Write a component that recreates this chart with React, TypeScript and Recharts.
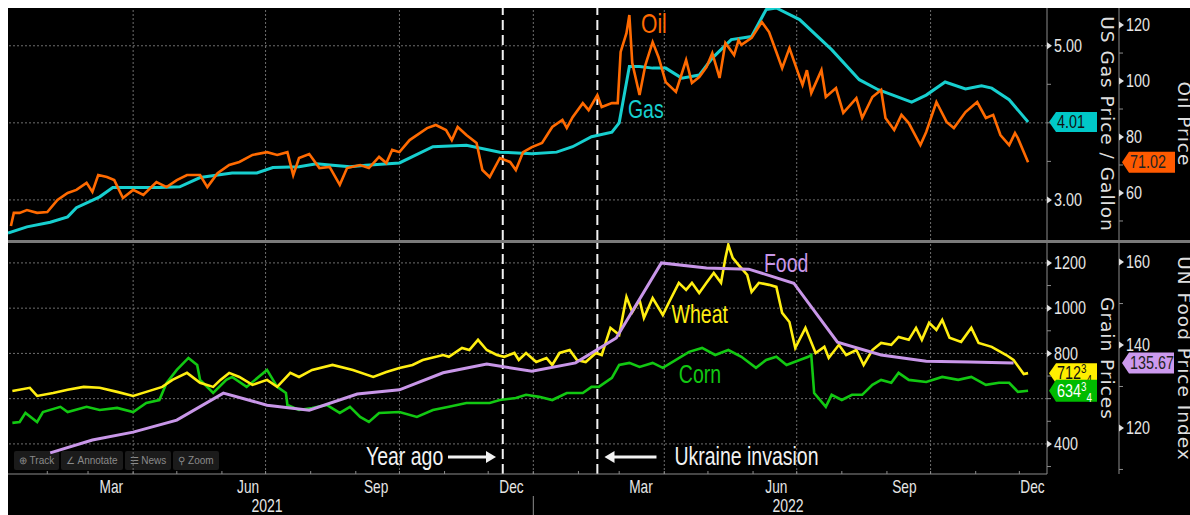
import { LineChart, Line, XAxis, YAxis, ReferenceLine, ReferenceDot } from 'recharts'

const SANS = '"Liberation Sans", Arial, sans-serif'
const WIDE = '"DejaVu Sans", Verdana, sans-serif'

// x = days since 1 Jan 2021
const oil = [
  [6, 48.2], [8, 52.9], [12, 52.9], [17, 53.9], [24, 52.9], [31, 53.2], [38, 57.5], [45, 60.0], [51, 61.1], [58, 63.6],
  [62, 60.4], [66, 66.4], [72, 65.7], [77, 64.6], [83, 58.2], [90, 61.1], [97, 59.3], [106, 63.9], [113, 62.1], [120, 64.6],
  [127, 66.4], [136, 66.4], [141, 62.1], [148, 67.1], [156, 70.0], [163, 71.1], [172, 73.6], [182, 74.6], [189, 73.6], [196, 74.6],
  [200, 66.4], [204, 72.5], [211, 73.9], [218, 68.9], [225, 69.3], [232, 62.9], [237, 68.9], [246, 70.0], [252, 68.9], [259, 72.9],
  [264, 70.7], [268, 75.4], [273, 74.6], [280, 78.9], [292, 83.2], [298, 84.3], [305, 82.5], [309, 78.9], [313, 83.6], [319, 80.7],
  [326, 77.9], [330, 68.2], [335, 65.7], [342, 72.5], [349, 71.1], [353, 68.2], [358, 74.6], [364, 76.4], [371, 77.9], [378, 83.6],
  [385, 86.1], [388, 83.2], [392, 87.1], [399, 92.1], [403, 89.6], [409, 95.0], [412, 90.7], [419, 92.1], [423, 92.1], [425, 110.4],
  [429, 117.1], [431, 123.6], [433, 106.4], [438, 95.0], [442, 105.7], [447, 113.9], [451, 108.6], [456, 99.6], [463, 96.1], [470, 107.5],
  [474, 99.3], [479, 101.4], [484, 105.0], [488, 110.0], [493, 101.1], [497, 113.6], [503, 109.3], [506, 114.6], [508, 112.9], [515, 115.4],
  [522, 121.1], [527, 117.5], [532, 110.4], [536, 104.6], [541, 111.8], [548, 101.4], [550, 98.6], [553, 103.9], [556, 95.7], [563, 103.9],
  [566, 94.3], [573, 97.5], [578, 88.6], [587, 93.9], [591, 86.8], [598, 94.3], [604, 96.8], [607, 86.8], [613, 82.5], [618, 87.9],
  [623, 85.0], [631, 77.1], [635, 81.8], [642, 92.5], [649, 85.4], [654, 83.2], [662, 88.9], [670, 92.5], [676, 86.8], [681, 87.9],
  [686, 80.7], [692, 77.1], [696, 81.4], [698, 79.6], [705, 71.02],
]

const gas = [
  [4, 2.57], [17, 2.65], [33, 2.71], [45, 2.78], [51, 2.9], [67, 3.04], [76, 3.16], [90, 3.16], [108, 3.16], [122, 3.17],
  [136, 3.29], [158, 3.35], [175, 3.35], [186, 3.42], [204, 3.43], [216, 3.47], [227, 3.45], [239, 3.43], [250, 3.45], [273, 3.48],
  [296, 3.69], [319, 3.71], [342, 3.62], [364, 3.6], [381, 3.62], [392, 3.69], [405, 3.82], [419, 3.88], [424, 4.0], [431, 4.73],
  [438, 4.73], [447, 4.71], [456, 4.71], [467, 4.58], [479, 4.62], [488, 4.84], [501, 5.08], [515, 5.12], [525, 5.47], [532, 5.49],
  [548, 5.34], [570, 4.95], [589, 4.56], [602, 4.43], [625, 4.27], [635, 4.36], [648, 4.53], [662, 4.44], [673, 4.48], [680, 4.45],
  [692, 4.3], [705, 4.01],
]

const wheat = [
  [7, 634], [19, 648], [24, 612], [35, 625], [45, 639], [56, 652], [67, 648], [79, 630], [90, 612], [99, 630],
  [110, 652], [117, 683], [127, 714], [136, 670], [145, 652], [150, 683], [156, 714], [163, 696], [172, 661], [182, 683],
  [189, 652], [198, 714], [204, 696], [213, 727], [227, 749], [241, 727], [255, 696], [264, 718], [273, 736], [282, 749],
  [289, 771], [303, 793], [307, 785], [316, 824], [321, 815], [327, 860], [333, 815], [340, 793], [345, 785], [352, 802],
  [355, 771], [360, 802], [367, 762], [374, 780], [378, 749], [383, 802], [390, 815], [395, 771], [401, 762], [408, 802],
  [412, 793], [418, 913], [424, 882], [429, 1050], [433, 983], [438, 1036], [441, 957], [447, 1045], [454, 970], [458, 1023],
  [465, 1112], [470, 1081], [474, 1112], [479, 1067], [484, 1112], [489, 1156], [494, 1112], [497, 1222], [499, 1280], [502, 1222],
  [506, 1191], [512, 1147], [515, 1072], [520, 1112], [527, 1103], [532, 1094], [536, 979], [541, 939], [545, 824], [552, 913],
  [559, 802], [565, 829], [568, 780], [575, 838], [580, 793], [587, 815], [592, 749], [598, 815], [604, 846], [611, 838],
  [616, 873], [623, 860], [628, 913], [632, 860], [637, 935], [642, 904], [646, 948], [651, 869], [659, 851], [666, 913],
  [671, 846], [680, 829], [690, 793], [695, 771], [702, 709], [705, 712.75],
]

const corn = [
  [7, 493], [12, 497], [16, 537], [24, 497], [28, 541], [40, 564], [45, 541], [58, 564], [67, 550], [79, 559],
  [90, 541], [99, 581], [108, 594], [113, 670], [120, 727], [128, 780], [134, 749], [136, 683], [145, 625], [154, 683],
  [158, 696], [168, 652], [182, 727], [189, 652], [195, 625], [196, 572], [204, 550], [213, 559], [223, 572], [232, 537],
  [239, 564], [246, 519], [252, 497], [259, 537], [273, 541], [285, 519], [296, 550], [307, 564], [319, 581], [335, 581],
  [342, 594], [353, 603], [360, 617], [369, 608], [378, 594], [388, 625], [399, 625], [405, 652], [410, 652], [419, 692],
  [424, 749], [431, 758], [438, 740], [447, 758], [454, 736], [463, 771], [472, 807], [481, 824], [490, 793], [499, 815],
  [508, 785], [518, 736], [525, 771], [532, 785], [539, 749], [548, 771], [554, 785], [556, 793], [558, 625], [566, 564],
  [570, 617], [577, 594], [584, 617], [591, 617], [598, 661], [604, 683], [611, 670], [616, 714], [623, 683], [635, 674],
  [646, 696], [657, 683], [666, 696], [676, 661], [685, 670], [692, 670], [698, 630], [705, 634.75],
]

// UN FAO food price index, monthly
const food = [
  [33, 114.0], [62, 117.1], [90, 119.0], [120, 121.9], [152, 128.4], [182, 125.5], [211, 124.3], [244, 128.2], [273, 129.2], [303, 133.3],
  [333, 135.4], [364, 133.7], [394, 135.7], [422, 141.7], [453, 159.8], [484, 158.6], [513, 158.3], [544, 154.9], [574, 140.7], [604, 137.6],
  [635, 136.1], [665, 135.9], [695, 135.67],
]

const xDomain = [4, 718]
const monthStarts = [31, 59, 90, 120, 151, 181, 212, 243, 273, 304, 334, 365, 396, 424, 455, 485, 516, 546, 577, 608, 638, 669, 699]
const quarterStarts = [90, 181, 273, 365, 455, 546, 638]
const monthLabelDays = [75, 169, 257, 350, 439, 532, 620, 708]
const monthLabels = ['Mar', 'Jun', 'Sep', 'Dec', 'Mar', 'Jun', 'Sep', 'Dec']
const yearLabelDays = [182, 540]
const yearLabels = ['2021', '2022']
const yearBreak = 365
const eventDays = [344, 409] // a year ago, Ukraine invasion

// labelled ticks (the 4.00 and 600 labels sit under the value badges)
const gasTicks = [3, 5]
const gasMinor = [3.5, 4, 4.5]
const gasGrid = [3, 4, 5]
const oilTicks = [60, 80, 100, 120]
const oilMinor = [50, 70, 90, 110]
const grainTicks = [400, 800, 1000, 1200]
const grainMinor = [300, 500, 600, 700, 900, 1100]
const grainGrid = [400, 600, 800, 1000, 1200]
const foodTicks = [120, 140, 160]
const foodMinor = [110, 130, 150]

const rows = (pts: number[][]) => pts.map(([d, v]) => ({ d, v }))

const GRID = '#6e6e6e'
const AXIS = '#8c8c8c'

// Bloomberg-style condensed text
function NText({ x, y, size, fill, anchor = 'start', sx = 0.8, dy, children }: any) {
  return (
    <text transform={`translate(${x} ${y}) scale(${sx} 1)`} x={0} y={0} dy={dy} textAnchor={anchor} fill={fill} fontSize={size} fontFamily={SANS}>
      {children}
    </text>
  )
}

function AxisTick({ x, y, payload, major, fmt }: any) {
  const v = payload.value
  if (!major.includes(v)) return <line x1={x} x2={x + 4} y1={y} y2={y} stroke={AXIS} />
  return (
    <g>
      <path d={`M${x},${y - 3.5}L${x + 5},${y}L${x},${y + 3.5}Z`} fill="#e0e0e0" />
      <NText x={x + 7} y={y} dy="0.36em" fill="#e6e6e6" size={17.5} sx={0.82}>{fmt(v)}</NText>
    </g>
  )
}

function AxisTitle({ viewBox, text, dx }: any) {
  const x = viewBox.x + dx
  const y = viewBox.y + viewBox.height / 2
  return (
    <text x={x} y={y} transform={`rotate(90 ${x} ${y})`} textAnchor="middle" fill="#dedede" fontSize={18.5} letterSpacing={1}
      fontFamily={WIDE}>
      {text}
    </text>
  )
}

function Badge({ viewBox, dx, w, h, fill, color, text, sup, sub }: any) {
  const x = viewBox.x + viewBox.width + dx
  const y = viewBox.y
  return (
    <g>
      <path d={`M${x},${y}L${x + 7},${y - h / 2}L${x + w},${y - h / 2}L${x + w},${y + h / 2}L${x + 7},${y + h / 2}Z`} fill={fill} />
      <NText x={x + 8} y={y} dy="0.36em" fill={color} size={17.5} sx={0.82}>
        {text}
        {sup && <tspan fontSize={12} dy="-0.5em">{sup}</tspan>}
        {sub && <tspan fontSize={12} dy="0.9em">{sub}</tspan>}
      </NText>
    </g>
  )
}

function SeriesLabel({ viewBox, text, fill, size }: any) {
  return <NText x={viewBox.x} y={viewBox.y} fill={fill} size={size} sx={0.78}>{text}</NText>
}

function EventNote({ viewBox, text, arrowFrom, arrowTo }: any) {
  const x = viewBox.x
  const y = viewBox.y
  const ay = y - 8
  const right = arrowTo > arrowFrom
  const tip = x + arrowTo
  const head = right
    ? `M${tip},${ay}L${tip - 10},${ay - 6}L${tip - 10},${ay + 6}Z`
    : `M${tip},${ay}L${tip + 10},${ay - 6}L${tip + 10},${ay + 6}Z`
  return (
    <g>
      <NText x={x} y={y} fill="#f2f2f2" size={25} sx={0.78}>{text}</NText>
      <line x1={x + arrowFrom} x2={right ? tip - 6 : tip + 6} y1={ay} y2={ay} stroke="#f2f2f2" strokeWidth={3} />
      <path d={head} fill="#f2f2f2" />
    </g>
  )
}

function MonthTick({ x, y, payload }: any) {
  const i = monthLabelDays.indexOf(payload.value)
  if (i >= 0) {
    return <NText x={x} y={y + 19} anchor="middle" fill="#e6e6e6" size={18} sx={0.76}>{monthLabels[i]}</NText>
  }
  return <line x1={x} x2={x} y1={y - 3} y2={y} stroke={AXIS} />
}

function YearTick({ x, y, payload }: any) {
  const i = yearLabelDays.indexOf(payload.value)
  if (i >= 0) {
    return <NText x={x} y={y + 17.5} anchor="middle" fill="#e6e6e6" size={18} sx={0.78}>{yearLabels[i]}</NText>
  }
  return <line x1={x} x2={x} y1={y + 2} y2={y + 21} stroke={AXIS} />
}

const toolbar = ['⊕ Track', '∠ Annotate', '☰ News', '⚲ Zoom']

export default function App() {
  return (
    <div style={{ position: 'fixed', left: 0, top: 0, width: 1190, height: 515, background: '#fff', overflow: 'hidden' }}>
      <div style={{ position: 'absolute', left: 8, top: 8, width: 1182, height: 507, background: '#000', overflow: 'hidden' }}>
        <div style={{ position: 'absolute', left: 6, top: 443, display: 'flex', gap: 2 }}>
          {toolbar.map((t) => (
            <div key={t} style={{ background: '#1b1b1b', color: '#8a8a8a', font: `10px ${SANS}`, padding: '4px 5px', borderRadius: 2 }}>{t}</div>
          ))}
        </div>
        <div style={{ position: 'absolute', left: 0, top: 0 }}>
          <LineChart width={1182} height={232} margin={{ top: 0, right: 0, bottom: 0, left: 0 }}>
            <XAxis type="number" dataKey="d" domain={xDomain} hide allowDataOverflow />
            <YAxis
              yAxisId="a_gas" orientation="right" type="number" domain={[2.48, 5.49]} allowDataOverflow
              ticks={[...gasTicks, ...gasMinor]} interval={0} width={72} tickSize={0} tickMargin={0}
              axisLine={{ stroke: AXIS }} tickLine={false}
              tick={<AxisTick major={gasTicks} fmt={(v: number) => v.toFixed(2)} />}
              label={<AxisTitle text="US Gas Price / Gallon" dx={54} />}
            />
            <YAxis
              yAxisId="b_oil" orientation="right" type="number" domain={[43.2, 126.1]} allowDataOverflow
              ticks={[...oilTicks, ...oilMinor]} interval={0} width={71} tickSize={0} tickMargin={0}
              axisLine={{ stroke: AXIS }} tickLine={false}
              tick={<AxisTick major={oilTicks} fmt={(v: number) => String(v)} />}
              label={<AxisTitle text="Oil Price" dx={59} />}
            />
            {gasGrid.map((v) => (
              <ReferenceLine key={'h' + v} yAxisId="a_gas" y={v} stroke={GRID} strokeDasharray="2 2" />
            ))}
            {quarterStarts.map((d) => (
              <ReferenceLine key={'v' + d} yAxisId="a_gas" x={d} stroke={GRID} strokeDasharray="2 2" />
            ))}
            {eventDays.map((d) => (
              <ReferenceLine key={'e' + d} yAxisId="a_gas" x={d} stroke="#f2f2f2" strokeWidth={2} strokeDasharray="10 5" />
            ))}
            <Line data={rows(gas)} yAxisId="a_gas" dataKey="v" stroke="#17cfcf" strokeWidth={3} dot={false} isAnimationActive={false} />
            <Line data={rows(oil)} yAxisId="b_oil" dataKey="v" stroke="#ff6a00" strokeWidth={2.6} dot={false} isAnimationActive={false} />
            <ReferenceDot yAxisId="b_oil" x={439} y={117.1} r={0} fill="none" stroke="none"
              label={<SeriesLabel text="Oil" fill="#ff6a00" size={27} />} />
            <ReferenceDot yAxisId="a_gas" x={430} y={4.065} r={0} fill="none" stroke="none"
              label={<SeriesLabel text="Gas" fill="#17cfcf" size={25} />} />
            <ReferenceLine yAxisId="a_gas" y={4.01} stroke="none"
              label={<Badge dx={2} w={48} h={20} fill="#00c8c8" color="#111" text="4.01" />} />
            <ReferenceLine yAxisId="b_oil" y={71.02} stroke="none"
              label={<Badge dx={75} w={53} h={21} fill="#ff5a00" color="#222" text="71.02" />} />
          </LineChart>
        </div>
        <div style={{ position: 'absolute', left: 0, top: 232, width: 1182, height: 3, background: '#7a7a7a' }} />
        <div style={{ position: 'absolute', left: 0, top: 235 }}>
          <LineChart width={1182} height={272} margin={{ top: 0, right: 0, bottom: 0, left: 0 }}>
            <XAxis
              xAxisId="m" type="number" dataKey="d" domain={xDomain} allowDataOverflow
              ticks={[...monthStarts, ...monthLabelDays]} interval={0} height={20} tickSize={0} tickMargin={0}
              axisLine={{ stroke: AXIS }} tickLine={false} tick={<MonthTick />}
            />
            <XAxis
              xAxisId="y" type="number" dataKey="d" domain={xDomain} allowDataOverflow
              ticks={[...yearLabelDays, yearBreak]} interval={0} height={21} tickSize={0} tickMargin={0}
              axisLine={false} tickLine={false} tick={<YearTick />}
            />
            <YAxis
              yAxisId="a_grain" orientation="right" type="number" domain={[267, 1288]} allowDataOverflow
              ticks={[...grainTicks, ...grainMinor]} interval={0} width={72} tickSize={0} tickMargin={0}
              axisLine={{ stroke: AXIS }} tickLine={false}
              tick={<AxisTick major={grainTicks} fmt={(v: number) => String(v)} />}
              label={<AxisTitle text="Grain Prices" dx={54} />}
            />
            <YAxis
              yAxisId="b_food" orientation="right" type="number" domain={[108.9, 164.6]} allowDataOverflow
              ticks={[...foodTicks, ...foodMinor]} interval={0} width={71} tickSize={0} tickMargin={0}
              axisLine={{ stroke: AXIS }} tickLine={false}
              tick={<AxisTick major={foodTicks} fmt={(v: number) => String(v)} />}
              label={<AxisTitle text="UN Food Price Index" dx={59} />}
            />
            {grainGrid.map((v) => (
              <ReferenceLine key={'h' + v} xAxisId="m" yAxisId="a_grain" y={v} stroke={GRID} strokeDasharray="2 2" />
            ))}
            {quarterStarts.map((d) => (
              <ReferenceLine key={'v' + d} xAxisId="m" yAxisId="a_grain" x={d} stroke={GRID} strokeDasharray="2 2" />
            ))}
            {eventDays.map((d) => (
              <ReferenceLine key={'e' + d} xAxisId="m" yAxisId="a_grain" x={d} stroke="#f2f2f2" strokeWidth={2} strokeDasharray="10 5" />
            ))}
            <Line data={rows(corn)} xAxisId="m" yAxisId="a_grain" dataKey="v" stroke="#12c812" strokeWidth={2.6} dot={false} isAnimationActive={false} />
            <Line data={rows(wheat)} xAxisId="m" yAxisId="a_grain" dataKey="v" stroke="#ffee11" strokeWidth={2.6} dot={false} isAnimationActive={false} />
            <Line data={rows(food)} xAxisId="m" yAxisId="b_food" dataKey="v" stroke="#c896e8" strokeWidth={3} dot={false} isAnimationActive={false} />
            <ReferenceDot xAxisId="m" yAxisId="a_grain" x={460} y={935} r={0} fill="none" stroke="none"
              label={<SeriesLabel text="Wheat" fill="#ffee11" size={25} />} />
            <ReferenceDot xAxisId="m" yAxisId="a_grain" x={465} y={670} r={0} fill="none" stroke="none"
              label={<SeriesLabel text="Corn" fill="#12c812" size={25} />} />
            <ReferenceDot xAxisId="m" yAxisId="b_food" x={523.5} y={157.6} r={0} fill="none" stroke="none"
              label={<SeriesLabel text="Food" fill="#c896e8" size={25} />} />
            <ReferenceDot xAxisId="m" yAxisId="a_grain" x={250} y={307} r={0} fill="none" stroke="none"
              label={<EventNote text="Year ago" arrowFrom={82} arrowTo={130} />} />
            <ReferenceDot xAxisId="m" yAxisId="a_grain" x={462} y={307} r={0} fill="none" stroke="none"
              label={<EventNote text="Ukraine invasion" arrowFrom={-18} arrowTo={-70} />} />
            <ReferenceLine xAxisId="m" yAxisId="a_grain" y={712.75} stroke="none"
              label={<Badge dx={2} w={48} h={20} fill="#ffee00" color="#111" text="712" sup="3" sub="4" />} />
            <ReferenceLine xAxisId="m" yAxisId="a_grain" y={634.75} stroke="none"
              label={<Badge dx={2} w={48} h={22} fill="#00bb00" color="#fff" text="634" sup="3" sub="4" />} />
            <ReferenceLine xAxisId="m" yAxisId="b_food" y={135.67} stroke="none"
              label={<Badge dx={75} w={52} h={21} fill="#cc99ee" color="#222" text="135.67" />} />
          </LineChart>
        </div>
      </div>
    </div>
  )
}
